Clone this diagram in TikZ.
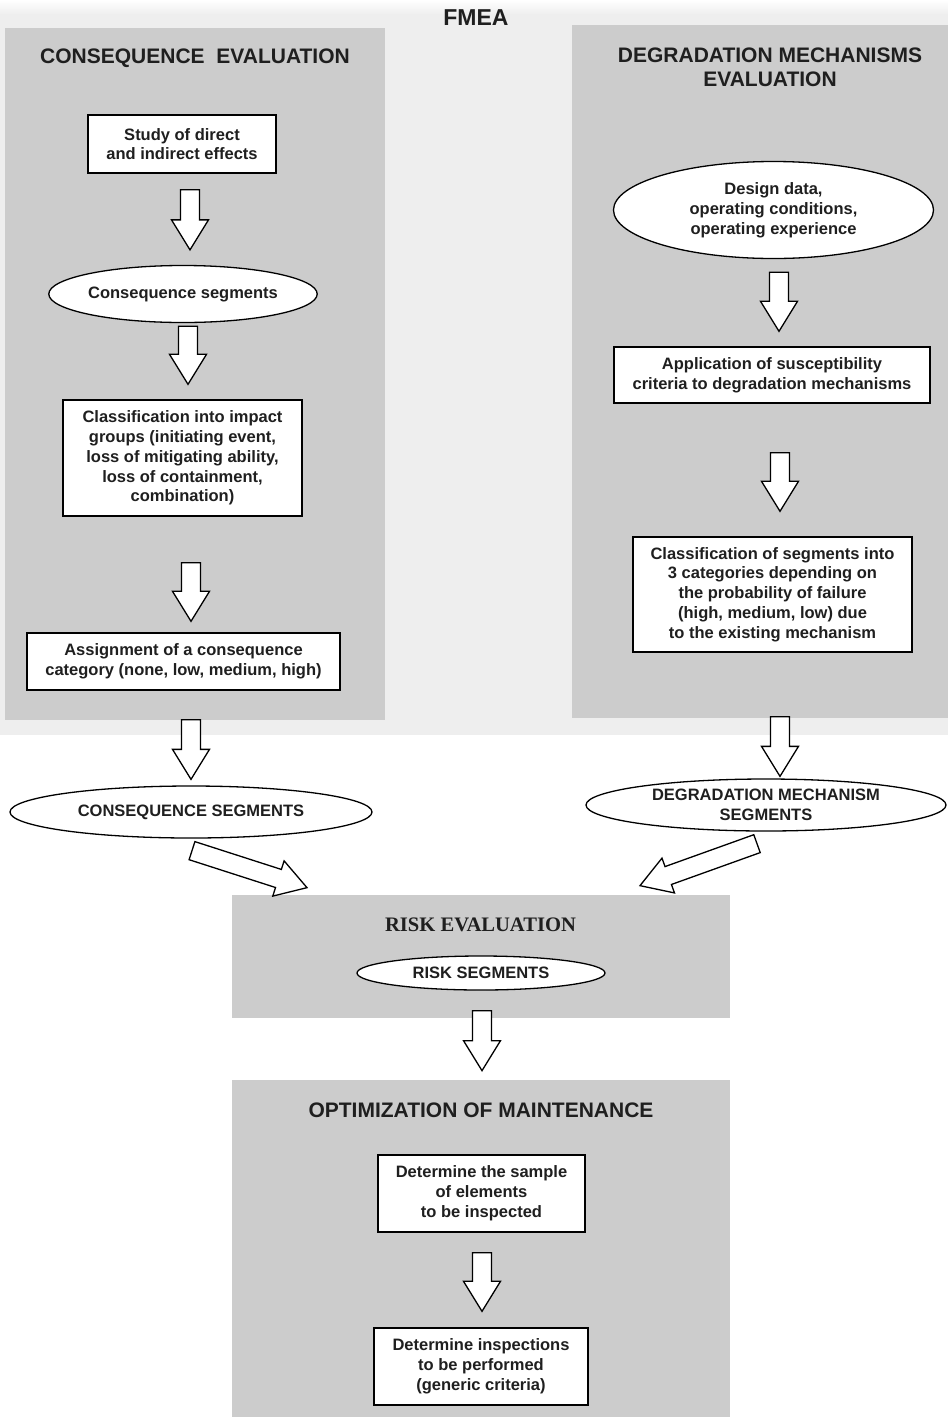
\documentclass[tikz,border=0pt]{standalone}
\usepackage{fontspec}
\setmainfont{Liberation Sans}
\newfontfamily\riskserif{Liberation Serif}
\usetikzlibrary{calc,shapes.geometric}

\definecolor{panelgray}{gray}{0.80}
\definecolor{stripgray}{gray}{0.935}
\definecolor{inkgray}{gray}{0.12}

\tikzset{
  panel/.style={fill=panelgray, draw=none},
  titletext/.style={font=\fontsize{21}{24}\selectfont\bfseries, text=inkgray, align=center, inner sep=0pt},
  stepbox/.style={draw=black, line width=1.4pt, fill=white, rectangle, align=center,
    font=\fontsize{16.5}{19.8}\selectfont\bfseries, text=inkgray, inner sep=0pt},
  segellipse/.style={draw=black, line width=1.3pt, fill=white, ellipse, align=center,
    font=\fontsize{16.5}{19.8}\selectfont\bfseries, text=inkgray, inner sep=0pt},
  fatarrow/.style={draw=black, fill=white, line width=1.3pt, line join=miter},
}

% hollow block arrow from #1 to #2 (shaft 19, head 37 wide, head 30 long)
\newcommand{\fatarrow}[2]{%
  \coordinate (fa-a) at (#1);
  \coordinate (fa-b) at (#2);
  \coordinate (fa-h) at ($(fa-b)!30pt!(fa-a)$);
  \filldraw[fatarrow]
    ($(fa-a)!9.5pt!90:(fa-b)$) -- ($(fa-h)!9.5pt!-90:(fa-a)$) --
    ($(fa-h)!18.5pt!-90:(fa-a)$) -- (fa-b) --
    ($(fa-h)!18.5pt!90:(fa-a)$) -- ($(fa-h)!9.5pt!90:(fa-a)$) --
    ($(fa-a)!9.5pt!-90:(fa-b)$) -- cycle;
}

\begin{document}
\begin{tikzpicture}[x=1pt, y=-1pt]
\useasboundingbox (0,0) rectangle (948,1417);
\fill[white] (0,0) rectangle (948,1417);

% backgrounds
\fill[stripgray] (0,0) rectangle (948,735);
\shade[top color=white, bottom color=stripgray] (0,0) rectangle (948,14);
\fill[panel] (5,28) rectangle (385,720);
\fill[panel] (572,25) rectangle (948,718);
\fill[panel] (232,895) rectangle (730,1018);
\fill[panel] (232,1080) rectangle (730,1417);

% titles
\node[titletext, font=\fontsize{23}{26}\selectfont\bfseries] (fmea) at (476,18) {FMEA};
\node[titletext] (ctitle) at (195,58) {CONSEQUENCE\ \ EVALUATION};
\node[titletext] (dtitle) at (770,67) {DEGRADATION MECHANISMS\\EVALUATION};
\node[titletext, font=\fontsize{20.6}{24}\selectfont\riskserif\bfseries] (rtitle) at (480.5,925) {RISK EVALUATION};
\node[titletext] (otitle) at (481,1110) {OPTIMIZATION OF MAINTENANCE};

% consequence column
\node[stepbox, minimum width=188, minimum height=58] (study) at (182,144)
  {Study of direct\\and indirect effects};
\node[segellipse, minimum width=262, minimum height=57] (cseg) at (183,294)
  {Consequence segments};
\node[stepbox, minimum width=239, minimum height=116] (impact) at (182.5,458)
  {Classification into impact\\groups (initiating event,\\loss of mitigating ability,\\loss of containment,\\combination)};
\node[stepbox, minimum width=313, minimum height=57] (assign) at (183.5,661.5)
  {Assignment of a consequence\\category (none, low, medium, high)};
\node[segellipse, minimum width=362, minimum height=52] (CSEG) at (191,812)
  {CONSEQUENCE SEGMENTS};

% degradation column
\node[segellipse, minimum width=320, minimum height=97] (design) at (773.5,210)
  {Design data,\\operating conditions,\\operating experience};
\node[stepbox, minimum width=316, minimum height=56] (apply) at (772,375)
  {Application of susceptibility\\criteria to degradation mechanisms};
\node[stepbox, minimum width=279, minimum height=115] (prob) at (772.5,594.5)
  {Classification of segments into\\3 categories depending on\\the probability of failure\\(high, medium, low) due\\to the existing mechanism};
\node[segellipse, minimum width=360, minimum height=52] (DSEG) at (766,805)
  {DEGRADATION MECHANISM\\SEGMENTS};

% risk and maintenance
\node[segellipse, minimum width=248, minimum height=34] (RSEG) at (481,973)
  {RISK SEGMENTS};
\node[stepbox, minimum width=207, minimum height=77] (sample) at (481.5,1193.5)
  {Determine the sample\\of elements\\to be inspected};
\node[stepbox, minimum width=214, minimum height=77] (insp) at (481,1366.5)
  {Determine inspections\\to be performed\\(generic criteria)};

% block arrows
\fatarrow{$(study.south)+(8,16)$}{$(cseg.north)+(7,-15)$}
\fatarrow{$(cseg.south)+(5,3)$}{$(impact.north)+(5.5,-15)$}
\fatarrow{$(impact.south)+(8.5,46)$}{$(assign.north)+(7.5,-11)$}
\fatarrow{$(assign.south)+(7.5,29)$}{$(CSEG.north)+(0,-6)$}
\fatarrow{$(CSEG.south)+(1,12)$}{$(CSEG.south)+(116,49)$}

\fatarrow{$(design.south)+(5.5,13)$}{$(apply.north)+(7,-15)$}
\fatarrow{$(apply.south)+(8,49)$}{$(prob.north)+(7.5,-25)$}
\fatarrow{$(prob.south)+(7.5,64)$}{$(DSEG.north)+(14,-2)$}
\fatarrow{$(DSEG.south)+(-9,12)$}{$(DSEG.south)+(-126,54)$}

\fatarrow{$(RSEG.south)+(1,20)$}{$(RSEG.south)+(1,80)$}
\fatarrow{$(sample.south)+(0.5,20)$}{$(insp.north)+(1,-16)$}

\end{tikzpicture}
\end{document}
